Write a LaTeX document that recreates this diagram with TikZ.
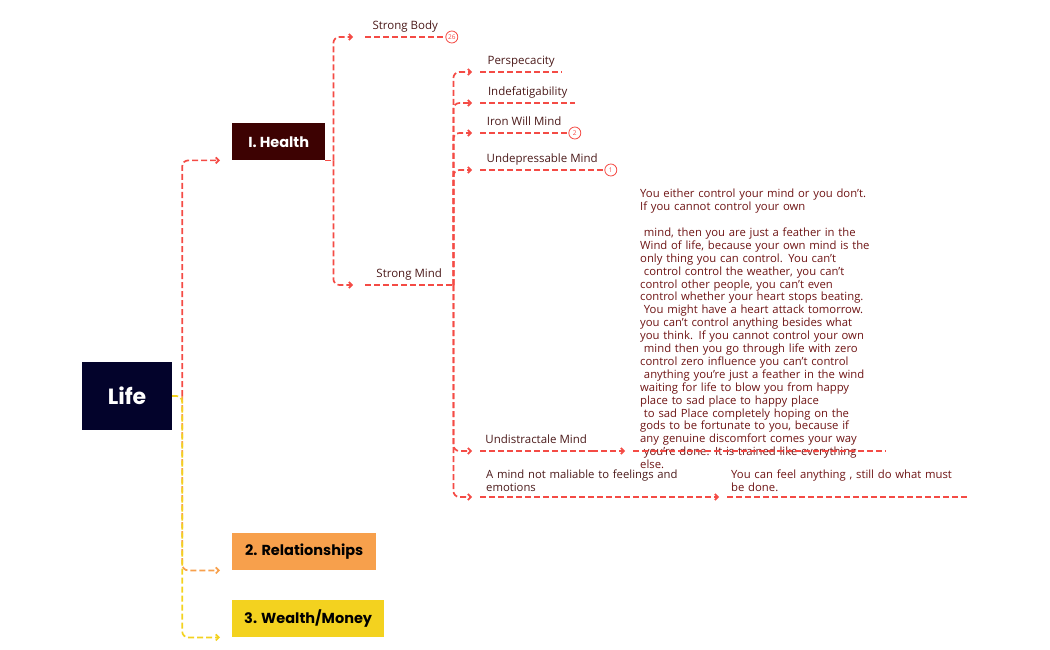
\documentclass[tikz,border=0pt]{standalone}
\usepackage{fontspec}
\setmainfont{Open Sans}
\newfontfamily\headfont{Poppins}
\usetikzlibrary{arrows.meta, positioning}
\definecolor{lifeblue}{HTML}{03032B}
\definecolor{healthred}{HTML}{3D0202}
\definecolor{relorange}{HTML}{F7A04C}
\definecolor{wealthyellow}{HTML}{F3D21F}
\definecolor{linkred}{HTML}{F44B45}
\definecolor{textmaroon}{HTML}{4B1A1A}
\definecolor{notered}{HTML}{6E1414}

\tikzset{
  link/.style={draw=linkred, line width=1.7pt, dash pattern=on 6pt off 3pt, rounded corners=6pt, -{Straight Barb[length=3pt,width=6pt]}, shorten >=8pt},
  uline/.style={draw=linkred, line width=1.7pt, dash pattern=on 6pt off 3pt},
  topic/.style={anchor=south west, minimum width=#1, inner xsep=0pt, inner ysep=5pt, text height=8pt, text depth=2.5pt, font=\fontsize{11.5}{13}\selectfont, text=textmaroon},
  headbox/.style={fill=#1, minimum height=37pt, anchor=north west, font=\headfont\bfseries\fontsize{14.5}{16}\selectfont},
  badge/.style={circle, draw=linkred, line width=0.8pt, minimum size=12pt, inner sep=0pt, text=linkred, font=\fontsize{6.5}{6.5}\selectfont, anchor=west},
  note/.style={anchor=north west, align=left, text=notered, inner xsep=7pt, inner ysep=0pt, font=\fontsize{11.3}{12.9}\selectfont}
}

\begin{document}
\begin{tikzpicture}[x=1pt, y=-1pt]
\useasboundingbox (0,0) rectangle (1050,650);

% main topics
\node[fill=lifeblue, minimum width=90pt, minimum height=68pt, text=white, font=\headfont\bfseries\fontsize{22}{24}\selectfont] (life) at (127,396) {Life};
\node[headbox=healthred, minimum width=93pt, text=white] (health) at (232,123) {I. Health};
\node[headbox=relorange, minimum width=144pt, text=black] (rel) at (232,533) {2. Relationships};
\node[headbox=wealthyellow, minimum width=152pt, text=black] (wealth) at (232,600) {3. Wealth/Money};

\coordinate (hub) at ([xshift=10pt]life.east);
\draw[link, draw=relorange, shorten >=12pt] (hub) |- (rel.south west);
\draw[link, draw=wealthyellow, shorten >=12pt] (life.east) -- (hub) |- (wealth.south west);
\draw[link, shorten >=12pt] (hub) |- (health.south west);

% health
\node[topic=80pt] (body) at (365,37) {Strong Body};
\node[topic=88pt] (mind) at (365,285) {Strong Mind};
\node[badge] (b26) at (body.south east) {26};

\coordinate (hhub) at ([xshift=8pt]health.south east);
\draw[uline] (health.south east) -- (hhub);
\draw[link, shorten >=12pt] (hhub) |- (body.south west);
\draw[link, shorten >=12pt] (hhub) |- (mind.south west);

% strong mind
\node[topic=82pt] (persp) at (480,72) {Perspecacity};
\node[topic=95pt] (indef) at (480,103) {Indefatigability};
\node[topic=88pt] (iron) at (480,133) {Iron Will Mind};
\node[topic=124pt] (undep) at (480,170) {Undepressable Mind};
\node[topic=112pt] (undis) at (480,451) {Undistractale Mind};
\node[anchor=south west, align=left, text width=222pt, inner xsep=6pt, inner ysep=5pt, font=\fontsize{11.3}{13}\selectfont, text=textmaroon] (malia) at (480,497) {A mind not maliable to feelings and\\emotions};
\node[badge] (b2) at (iron.south east) {2};
\node[badge] (b1) at (undep.south east) {1};

\foreach \n in {body,mind,persp,indef,iron,undep,undis,malia}
  \draw[uline] (\n.south west) -- (\n.south east);

\foreach \n in {persp,indef,iron,undep,undis,malia}
  \draw[link] (mind.south east) |- (\n.south west);

% notes
\node[note, text width=245pt] (undisnote) at (633,189) {You either control your mind or you don't.\\
If you cannot control your own\\[12.9pt]
\ mind, then you are just a feather in the\\
Wind of life, because your own mind is the\\
only thing you can control. You can't\\
\ control control the weather, you can't\\
control other people, you can't even\\
control whether your heart stops beating.\\
\ You might have a heart attack tomorrow.\\
you can't control anything besides what\\
you think. If you cannot control your own\\
\ mind then you go through life with zero\\
control zero influence you can't control\\
\ anything you're just a feather in the wind\\
waiting for life to blow you from happy\\
place to sad place to happy place\\
\ to sad Place completely hoping on the\\
gods to be fortunate to you, because if\\
any genuine discomfort comes your way\\
\ you're done. It is trained like everything\\
else.};
\node[note, anchor=south west, text width=234pt, inner xsep=4pt, inner ysep=5pt, font=\fontsize{11.3}{13}\selectfont] (malianote) at (727,497) {You can feel anything , still do what must\\be done.};

\draw[uline] (undisnote.west |- undis.south) -- ([xshift=-7pt]undisnote.east |- undis.south);
\draw[link] (undis.south east) -- (undisnote.west |- undis.south);
\draw[uline] (malianote.south west) -- (malianote.south east);
\draw[link] (malia.south east) -- (malianote.south west);
\end{tikzpicture}
\end{document}
